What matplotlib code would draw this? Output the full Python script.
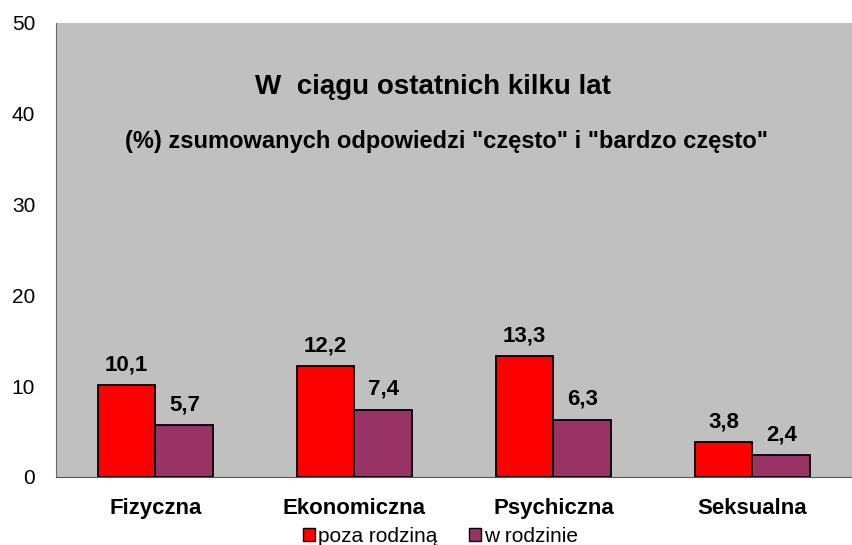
import numpy as np
import matplotlib.pyplot as plt
from matplotlib.patches import Patch

plt.rcParams['font.family'] = ['Liberation Sans', 'DejaVu Sans']

# Dane: odsetek odpowiedzi "często" i "bardzo często"
categories = ["Fizyczna", "Ekonomiczna", "Psychiczna", "Seksualna"]
poza_rodzina = [10.1, 12.2, 13.3, 3.8]
w_rodzinie = [5.7, 7.4, 6.3, 2.4]
series_names = ["poza rodziną", "w rodzinie"]
yticks = [0, 10, 20, 30, 40, 50]

fig = plt.figure(figsize=(8.52, 5.45), dpi=100)
ax = fig.add_axes([0.0657, 0.1248, 0.9343, 0.8332])
ax.set_facecolor("#c0c0c0")

x = np.arange(len(categories))
w = 0.29
red = "#ff0000"
plum = "#993366"
ax.bar(x - w / 2, poza_rodzina, w, color=red, edgecolor="black", linewidth=1.3)
ax.bar(x + w / 2, w_rodzinie, w, color=plum, edgecolor="black", linewidth=1.3)

def fmt(v):
    return f"{v:.1f}".replace(".", ",")

for xi, v in zip(x - w / 2, poza_rodzina):
    ax.text(xi, v + 1.1, fmt(v), ha="center", va="bottom", fontsize=16, fontweight="bold")
for xi, v in zip(x + w / 2, w_rodzinie):
    ax.text(xi, v + 1.1, fmt(v), ha="center", va="bottom", fontsize=16, fontweight="bold")

ax.set_xlim(-0.5, len(categories) - 0.5)
ax.set_ylim(0, 50)
ax.set_yticks(yticks)
ax.set_yticklabels([str(t) for t in yticks], fontsize=15)
ax.set_xticks(x)
ax.set_xticklabels(categories, fontsize=16, fontweight="bold")
ax.tick_params(axis="both", length=0)
ax.tick_params(axis="x", pad=15)
ax.tick_params(axis="y", pad=15)
for s in ["top", "right"]:
    ax.spines[s].set_visible(False)
ax.spines["left"].set_color("#666666")
ax.spines["bottom"].set_color("#555555")

ax.text(0.473, 0.858, "W  ciągu ostatnich kilku lat", transform=ax.transAxes,
        ha="center", va="center", fontsize=20, fontweight="bold")
ax.text(0.491, 0.738, '(%) zsumowanych odpowiedzi "często" i "bardzo często"',
        transform=ax.transAxes, ha="center", va="center", fontsize=17, fontweight="bold")

handles = [Patch(facecolor=red, edgecolor="black"), Patch(facecolor=plum, edgecolor="black")]
fig.legend(handles, series_names, loc="center", bbox_to_anchor=(0.517, 0.016), ncol=2,
           frameon=False, fontsize=15, handlelength=0.6, handleheight=0.6,
           handletextpad=0.15, columnspacing=1.5)

fig.savefig("out.png", dpi=100)
